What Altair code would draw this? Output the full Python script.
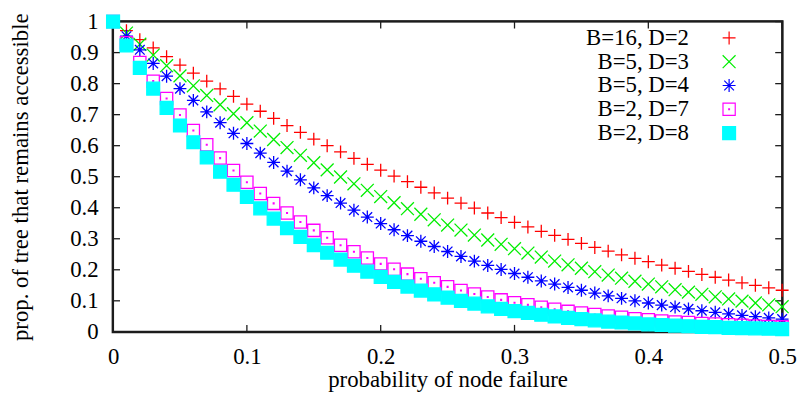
import altair as alt
import pandas as pd

# probability of node failure
p = [0.00, 0.01, 0.02, 0.03, 0.04, 0.05, 0.06, 0.07, 0.08, 0.09, 0.10,
     0.11, 0.12, 0.13, 0.14, 0.15, 0.16, 0.17, 0.18, 0.19, 0.20,
     0.21, 0.22, 0.23, 0.24, 0.25, 0.26, 0.27, 0.28, 0.29, 0.30,
     0.31, 0.32, 0.33, 0.34, 0.35, 0.36, 0.37, 0.38, 0.39, 0.40,
     0.41, 0.42, 0.43, 0.44, 0.45, 0.46, 0.47, 0.48, 0.49, 0.50]

b16_d2 = [1.000, 0.971, 0.942, 0.915, 0.887, 0.860, 0.834, 0.808, 0.783, 0.759, 0.734,
          0.711, 0.688, 0.665, 0.643, 0.621, 0.600, 0.580, 0.559, 0.540, 0.521,
          0.502, 0.484, 0.466, 0.448, 0.431, 0.415, 0.399, 0.383, 0.368, 0.353,
          0.338, 0.324, 0.311, 0.298, 0.285, 0.272, 0.260, 0.248, 0.237, 0.226,
          0.215, 0.205, 0.195, 0.185, 0.176, 0.167, 0.158, 0.150, 0.142, 0.134]

b5_d3 = [1.000, 0.963, 0.927, 0.892, 0.858, 0.825, 0.793, 0.762, 0.732, 0.703, 0.674,
         0.647, 0.620, 0.594, 0.569, 0.545, 0.522, 0.499, 0.477, 0.456, 0.436,
         0.416, 0.397, 0.379, 0.361, 0.344, 0.328, 0.312, 0.296, 0.282, 0.268,
         0.254, 0.241, 0.228, 0.216, 0.205, 0.194, 0.183, 0.173, 0.163, 0.154,
         0.145, 0.136, 0.128, 0.121, 0.113, 0.106, 0.099, 0.093, 0.087, 0.081]

b5_d4 = [1.000, 0.953, 0.909, 0.865, 0.824, 0.784, 0.746, 0.709, 0.674, 0.640, 0.607,
         0.576, 0.546, 0.518, 0.490, 0.464, 0.439, 0.415, 0.392, 0.370, 0.349,
         0.329, 0.310, 0.292, 0.275, 0.259, 0.243, 0.228, 0.214, 0.201, 0.188,
         0.176, 0.164, 0.154, 0.143, 0.134, 0.125, 0.116, 0.108, 0.100, 0.093,
         0.086, 0.080, 0.074, 0.068, 0.063, 0.058, 0.053, 0.049, 0.045, 0.041]

b2_d7 = [1.000, 0.932, 0.868, 0.808, 0.752, 0.699, 0.649, 0.603, 0.560, 0.520, 0.482,
         0.446, 0.414, 0.383, 0.354, 0.327, 0.303, 0.279, 0.258, 0.238, 0.219,
         0.202, 0.186, 0.171, 0.158, 0.145, 0.133, 0.122, 0.112, 0.103, 0.094,
         0.087, 0.079, 0.073, 0.066, 0.061, 0.056, 0.051, 0.047, 0.042, 0.039,
         0.035, 0.032, 0.030, 0.027, 0.025, 0.023, 0.021, 0.019, 0.017, 0.016]

b2_d8 = [1.000, 0.923, 0.851, 0.784, 0.722, 0.665, 0.611, 0.562, 0.516, 0.474, 0.435,
         0.398, 0.365, 0.334, 0.306, 0.279, 0.255, 0.233, 0.213, 0.194, 0.177,
         0.161, 0.146, 0.133, 0.121, 0.110, 0.100, 0.091, 0.082, 0.074, 0.067,
         0.061, 0.055, 0.050, 0.045, 0.041, 0.037, 0.033, 0.030, 0.027, 0.024,
         0.022, 0.020, 0.018, 0.016, 0.015, 0.013, 0.012, 0.011, 0.010, 0.009]

series_names = ["B=16, D=2", "B=5, D=3", "B=5, D=4", "B=2, D=7", "B=2, D=8"]
series_values = [b16_d2, b5_d3, b5_d4, b2_d7, b2_d8]

x_ticks = [0.0, 0.1, 0.2, 0.3, 0.4, 0.5]
y_ticks = [0.0, 0.1, 0.2, 0.3, 0.4, 0.5, 0.6, 0.7, 0.8, 0.9, 1.0]
x_range = [0.0, 0.5]
y_range = [0.0, 1.0]

W, H = 675, 313
FONT = "Liberation Serif"
FS = 23
TICK = 7
GUIDE = "#1c1c1c"

# guide elements (border box and inward ticks on all four sides), drawn first
guide_kinds = ["frame", "tick_b", "tick_t", "tick_l", "tick_r"]
rows = [{"p": (x_range[0] + x_range[1]) / 2, "v": (y_range[0] + y_range[1]) / 2, "kind": "frame"}]
for t in x_ticks:
    rows.append({"p": t, "v": y_range[0], "kind": "tick_b"})
    rows.append({"p": t, "v": y_range[1], "kind": "tick_t"})
for t in y_ticks:
    rows.append({"p": x_range[0], "v": t, "kind": "tick_l"})
    rows.append({"p": x_range[1], "v": t, "kind": "tick_r"})
for name, vals in zip(series_names, series_values):
    for x, y in zip(p, vals):
        rows.append({"p": x, "v": y, "kind": name})
df = pd.DataFrame(rows)

hh = H / W          # frame half-height in symbol units (half-width = 1)
d = 0.8 / (W / 2)   # second outline 0.8px outside, to thicken the border
frame_path = (f"M-1,{-hh}H1V{hh}H-1Z"
              f"M{-1 - d},{-hh - d}H{1 + d}V{hh + d}H{-1 - d}Z")

kinds = guide_kinds + series_names
colors = [GUIDE] * 5 + ["#ff0000", "#00ee00", "#0000ff", "#ff00ff", "#00ffff"]
fills = ["transparent"] * 5 + ["transparent", "transparent", "transparent", "transparent", "#00ffff"]
shapes = [frame_path, "M0,0V-1", "M0,0V1", "M0,0H1", "M0,0H-1",
          "M-1,0H1M0,-1V1",
          "M-1,-1L1,1M-1,1L1,-1",
          "M-1,0H1M0,-1V1M-0.75,-0.75L0.75,0.75M-0.75,0.75L0.75,-0.75",
          "M-0.95,-0.95H0.95V0.95H-0.95ZM-0.06,-0.06H0.06V0.06H-0.06Z",
          "M-1,-1H1V1H-1Z"]
sizes = [W * W] + [(2 * TICK) ** 2] * 4 + [169] * 5

xscale = alt.Scale(domain=x_range, nice=False, zero=False)
yscale = alt.Scale(domain=y_range, nice=False, zero=False)

x_axis = alt.Axis(values=x_ticks, format=".1~f", ticks=False, grid=False, domain=False,
                  labelFlush=False, labelFont=FONT, labelFontSize=FS,
                  labelColor="black", labelPadding=14,
                  title="probability of node failure", titleFont=FONT, titleFontSize=FS,
                  titleFontWeight="normal", titleColor="black", titleY=55,
                  titleBaseline="alphabetic")
y_axis = alt.Axis(values=y_ticks, format=".1~f", ticks=False, grid=False, domain=False,
                  labelOverlap=False, labelFont=FONT, labelFontSize=FS,
                  labelColor="black", labelPadding=15,
                  title="prop. of tree that remains accessible", titleFont=FONT, titleFontSize=FS,
                  titleFontWeight="normal", titleColor="black", titleX=-86, titleY=H / 2,
                  titleBaseline="alphabetic")

legend = alt.Legend(title=None, orient="none", legendX=610, legendY=5, values=series_names,
                    labelAlign="right", labelOffset={"expr": "-52"}, symbolOffset=0,
                    labelFont=FONT, labelFontSize=FS, labelColor="black", symbolSize=169,
                    symbolStrokeWidth=1.2, rowPadding=0, labelLimit=0, padding=0)

chart = alt.Chart(df).mark_point(filled=False, strokeWidth=1.3, opacity=1).encode(
    x=alt.X("p:Q", scale=xscale, axis=x_axis),
    y=alt.Y("v:Q", scale=yscale, axis=y_axis),
    color=alt.Color("kind:N", scale=alt.Scale(domain=kinds, range=colors), legend=legend),
    fill=alt.Fill("kind:N", scale=alt.Scale(domain=kinds, range=fills), legend=legend),
    shape=alt.Shape("kind:N", scale=alt.Scale(domain=kinds, range=shapes), legend=legend),
    size=alt.Size("kind:N", scale=alt.Scale(type="ordinal", domain=kinds, range=sizes), legend=None),
).properties(
    width=W, height=H,
    autosize=alt.AutoSizeParams(type="none"),
    padding={"left": 106, "top": 12, "right": 16, "bottom": 60},
).configure(background="white").configure_view(stroke=GUIDE, strokeWidth=2)

chart.save("out.html", embed_options={"renderer": "svg", "actions": False})
